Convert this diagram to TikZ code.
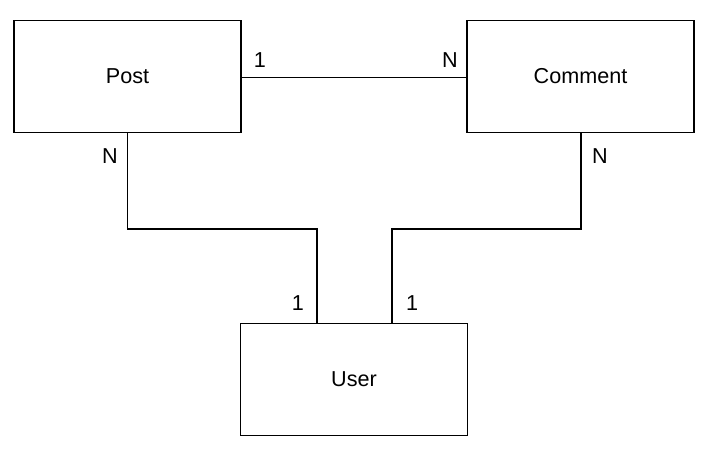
\documentclass[tikz,border=0pt]{standalone}
\usepackage{fontspec}
\setmainfont{Liberation Sans}
\begin{document}
\begin{tikzpicture}[x=0.75pt,y=-0.75pt,
  entity/.style={draw,line width=1pt,minimum width=170.25pt,minimum height=84pt,inner sep=0pt,font=\fontsize{16.2}{19}\selectfont},
  conn/.style={line width=1pt},
  card/.style={font=\fontsize{16.2}{19}\selectfont,inner sep=0pt}]
\useasboundingbox (0,0) rectangle (709,450);
\node[entity] (post) at (127.5,76.5) {Post};
\node[entity] (comment) at (580.5,76.5) {Comment};
\node[entity] (user) at (354,379.5) {User};
\draw[conn] ([yshift=-0.75pt]post.east) -- ([yshift=-0.75pt]comment.west);
\coordinate (pb) at (127.5,132.5);
\coordinate (ut1) at (317,323);
\coordinate (cb) at (581,132.5);
\coordinate (ut2) at (392,323);
\draw[conn] (pb) -- (127.5,229) -- (317,229) -- (ut1);
\draw[conn] (cb) -- (581,229) -- (392,229) -- (ut2);
\node[card] (l1) at (260,60) {1};
\node[card] (l2) at (450,60) {N};
\node[card] (l3) at (110,156) {N};
\node[card] (l4) at (600,156) {N};
\node[card] (l5) at (298,303) {1};
\node[card] (l6) at (412,303) {1};
\end{tikzpicture}
\end{document}
